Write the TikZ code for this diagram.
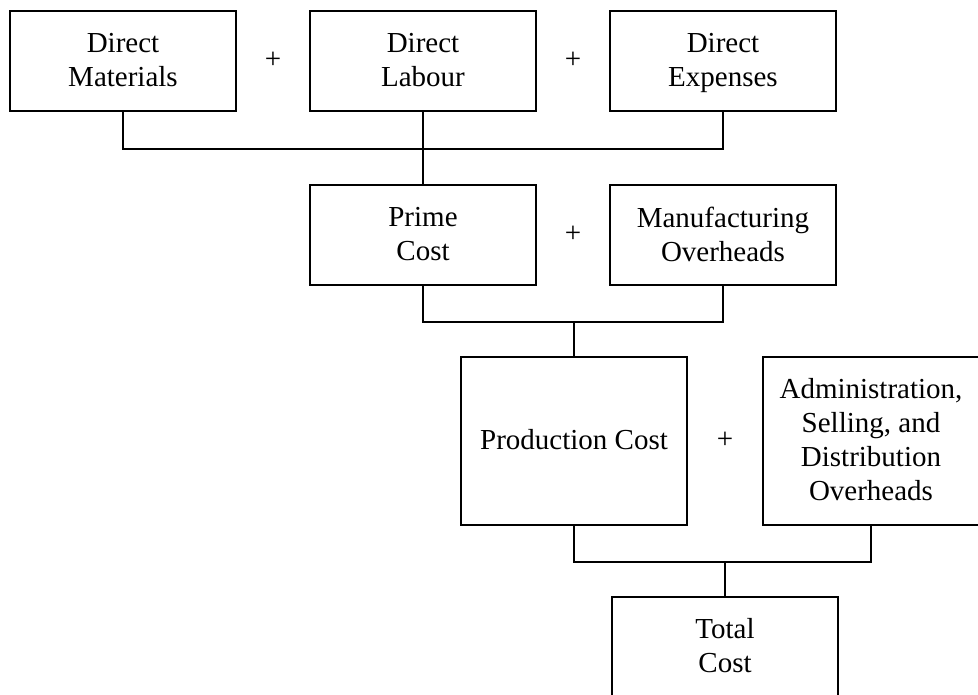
\documentclass[tikz,border=0pt]{standalone}
\usepackage{fontspec}
\setmainfont{Liberation Serif}
\usetikzlibrary{calc}
\tikzset{
  costnode/.style = {align=center, inner sep=0pt, text centered, text depth=0.22em, font=\fontsize{29}{34}\selectfont},
  % cost_B: boxed cost item
  cost_B/.style = {costnode, rectangle, draw=black, line width=2pt, minimum width=226pt, minimum height=100pt},
  plus_S/.style = {costnode},
  link_L/.style = {line width=2pt, line cap=rect}
}
\begin{document}
\begin{tikzpicture}[x=1pt,y=-1pt]
    \useasboundingbox (0,0) rectangle (978,695);
    % Layer 1 - direct costs:
    \node [cost_B] (dm) at (123,61) {Direct\\Materials};
    \node [cost_B] (dl) at (423,61) {Direct\\Labour};
    \node [cost_B] (de) at (723,61) {Direct\\Expenses};
    \node [plus_S] (p1) at (273,61) {+};
    \node [plus_S] (p2) at (573,61) {+};
    % Layer 2 - prime cost:
    \node [cost_B] (pc) at (423,235) {Prime\\Cost};
    \node [cost_B] (mo) at (723,235) {Manufacturing\\Overheads};
    \node [plus_S] (p3) at (573,235) {+};
    % Layer 3 - production cost:
    \node [cost_B][minimum height=168pt] (prod) at (574,441) {Production Cost};
    \node [cost_B][minimum height=168pt, minimum width=216pt] (asd) at (871,441) {Administration,\\Selling, and\\Distribution\\Overheads};
    \node [plus_S] (p4) at (725,441) {+};
    % Layer 4 - total cost:
    \node [cost_B] (tc) at (725,647) {Total\\Cost};
    % Connectors:
    \coordinate (j1) at ($(dl.south)+(0,37)$);
    \coordinate (j2) at ($(pc.south)+(0,36)$);
    \coordinate (j3) at ($(prod.south)+(0,36)$);
    \draw [link_L] (dm.south) |- (j1) -| (de.south);
    \draw [link_L] (dl.south) -- (pc.north);
    \draw [link_L] (pc.south) |- (j2) -| (mo.south);
    \draw [link_L] (j2 -| prod.north) -- (prod.north);
    \draw [link_L] (prod.south) |- (j3) -| (asd.south);
    \draw [link_L] (j3 -| tc.north) -- (tc.north);
\end{tikzpicture}
\end{document}
